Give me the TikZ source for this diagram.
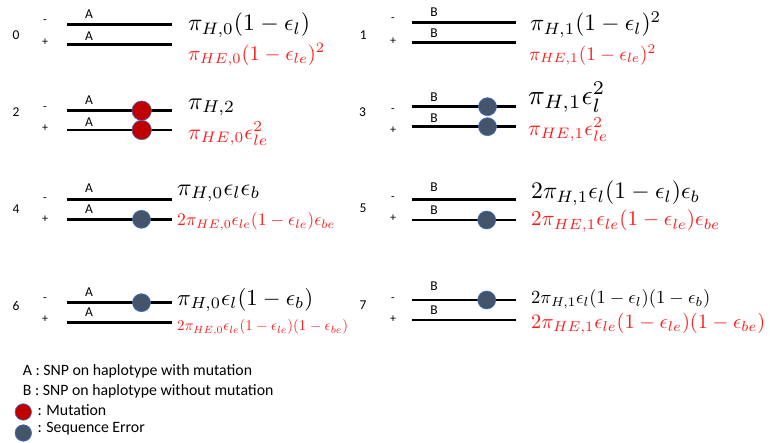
\documentclass[tikz,border=0pt]{standalone}
\usepackage[no-math]{fontspec}
\setmainfont{Carlito}
\usepackage{graphicx}
\definecolor{mutred}{HTML}{C00000}
\definecolor{errblue}{HTML}{44546A}
\definecolor{rimblue}{HTML}{4472C4}
\definecolor{probred}{HTML}{FF1A1A}
% formula scaled to a given width (pt)
\newcommand{\fml}[2]{\resizebox{#1pt}{!}{$#2$}}
\tikzset{
  strand/.style={line width=2.7pt},
  snp/.style={font=\fontsize{13.5}{15}\selectfont, inner sep=0pt},
  sgn/.style={font=\fontsize{12}{14}\selectfont, inner sep=0pt},
  idx/.style={font=\fontsize{13.5}{15}\selectfont, inner sep=0pt},
  prob/.style={anchor=west, inner sep=0pt},
  probe/.style={anchor=west, inner sep=0pt, text=probred},
  mutation/.style={circle, fill=mutred, draw=rimblue, line width=0.6pt, minimum size=19.5pt, inner sep=0pt},
  seqerror/.style={circle, fill=errblue, draw=rimblue, line width=0.6pt, minimum size=18pt, inner sep=0pt},
  legend/.style={anchor=west, font=\fontsize{15.8}{18}\selectfont, inner sep=0pt}
}
\begin{document}
\begin{tikzpicture}[x=1pt,y=-1pt]
  \useasboundingbox (0,0) rectangle (770,443);
  % case 0
  \node[idx] (n0) at (16,35.5) {0};
  \node[sgn] (m0) at (45,21.7) {-};
  \node[sgn] (p0) at (45,42.5) {+};
  \draw[strand] (67,24.3) -- (172,24.3);
  \draw[strand] (67,44.3) -- (172,44.3);
  \node[snp] (a0m) at (89,14) {A};
  \node[snp] (a0p) at (89,36) {A};
  \node[prob] (f0h) at (188,25) {\fml{122}{\pi_{H,0}(1-\epsilon_l)}};
  \node[probe] (f0e) at (188,55) {\fml{137}{\pi_{HE,0}(1-\epsilon_{le})^2}};
  % case 1
  \node[idx] (n1) at (363.3,35) {1};
  \node[sgn] (m1) at (393,20) {-};
  \node[sgn] (p1) at (393,40.8) {+};
  \draw[strand] (412,22.7) -- (516,22.7);
  \draw[strand] (412,42.7) -- (516,42.7);
  \node[snp] (b1m) at (434,11.7) {B};
  \node[snp] (b1p) at (434,33) {B};
  \node[prob] (f1h) at (530,24.5) {\fml{131}{\pi_{H,1}(1-\epsilon_l)^2}};
  \node[probe] (f1e) at (529,55) {\fml{127}{\pi_{HE,1}(1-\epsilon_{le})^2}};
  % case 2
  \node[idx] (n2) at (16,112) {2};
  \node[sgn] (m2) at (45,108.3) {-};
  \node[sgn] (p2) at (45,128) {+};
  \draw[strand] (67,110.7) -- (172,110.7);
  \draw[strand] (67,130) -- (172,130);
  \node[snp] (a2m) at (89,100.5) {A};
  \node[snp] (a2p) at (89,122) {A};
  \node[mutation] (u2m) at (141.7,110.7) {};
  \node[mutation] (u2p) at (141.7,130) {};
  \node[prob] (f2h) at (188,107.5) {\fml{47}{\pi_{H,2}}};
  \node[probe] (f2e) at (188,134) {\fml{80}{\pi_{HE,0}\epsilon_{le}^2}};
  % case 3
  \node[idx] (n3) at (362.5,112) {3};
  \node[sgn] (m3) at (393,111) {-};
  \node[sgn] (p3) at (393,130) {+};
  \draw[strand] (412,106.7) -- (516,106.7);
  \draw[strand] (412,126.7) -- (516,126.7);
  \node[snp] (b3m) at (434,97) {B};
  \node[snp] (b3p) at (434,118.5) {B};
  \node[seqerror] (e3m) at (487.5,106.7) {};
  \node[seqerror] (e3p) at (487.5,126.7) {};
  \node[prob] (f3h) at (528,97) {\fml{77}{\pi_{H,1}\epsilon_l^2}};
  \node[probe] (f3e) at (528,130) {\fml{80}{\pi_{HE,1}\epsilon_{le}^2}};
  % case 4
  \node[idx] (n4) at (16,209.2) {4};
  \node[sgn] (m4) at (45,200) {-};
  \node[sgn] (p4) at (45,219.7) {+};
  \draw[strand] (67,199.3) -- (172,199.3);
  \draw[strand] (67,219.3) -- (172,219.3);
  \node[snp] (a4m) at (89,188) {A};
  \node[snp] (a4p) at (89,209) {A};
  \node[seqerror] (e4p) at (141.5,219.3) {};
  \node[prob] (f4h) at (177,193.3) {\fml{83}{\pi_{H,0}\epsilon_l\epsilon_b}};
  \node[probe] (f4e) at (177,221.7) {\fml{158}{2\pi_{HE,0}\epsilon_{le}(1-\epsilon_{le})\epsilon_{be}}};
  % case 5
  \node[idx] (n5) at (363,208.7) {5};
  \node[sgn] (m5) at (393,198.3) {-};
  \node[sgn] (p5) at (393,218) {+};
  \draw[strand] (412,199.3) -- (516,199.3);
  \draw[strand] (412,220) -- (516,220);
  \node[snp] (b5m) at (434,187.5) {B};
  \node[snp] (b5p) at (434,210) {B};
  \node[seqerror] (e5p) at (486.7,220) {};
  \node[prob] (f5h) at (531,193) {\fml{169}{2\pi_{H,1}\epsilon_l(1-\epsilon_l)\epsilon_b}};
  \node[probe] (f5e) at (531,221) {\fml{189}{2\pi_{HE,1}\epsilon_{le}(1-\epsilon_{le})\epsilon_{be}}};
  % case 6
  \node[idx] (n6) at (16,305.8) {6};
  \node[sgn] (m6) at (45,299.3) {-};
  \node[sgn] (p6) at (45,319.3) {+};
  \draw[strand] (67,302.7) -- (172,302.7);
  \draw[strand] (67,322.7) -- (172,322.7);
  \node[snp] (a6m) at (89,292) {A};
  \node[snp] (a6p) at (89,312) {A};
  \node[seqerror] (e6m) at (141.5,302.7) {};
  \node[prob] (f6h) at (177,300) {\fml{136}{\pi_{H,0}\epsilon_l(1-\epsilon_b)}};
  \node[probe] (f6e) at (177,327.5) {\fml{171}{2\pi_{HE,0}\epsilon_{le}(1-\epsilon_{le})(1-\epsilon_{be})}};
  % case 7
  \node[idx] (n7) at (363,305) {7};
  \node[sgn] (m7) at (393,300) {-};
  \node[sgn] (p7) at (393,319.3) {+};
  \draw[strand] (412,300) -- (516,300);
  \draw[strand] (412,320) -- (516,320);
  \node[snp] (b7m) at (434,286) {B};
  \node[snp] (b7p) at (434,310.5) {B};
  \node[seqerror] (e7m) at (486.7,300) {};
  \node[prob] (f7h) at (531,299) {\fml{179}{2\pi_{H,1}\epsilon_l(1-\epsilon_l)(1-\epsilon_b)}};
  \node[probe] (f7e) at (531,323.3) {\fml{234}{2\pi_{HE,1}\epsilon_{le}(1-\epsilon_{le})(1-\epsilon_{be})}};
  % legend
  \node[legend] (ka) at (22.7,371.7) {A : SNP on haplotype with mutation};
  \node[legend] (kb) at (22.7,391) {B : SNP on haplotype without mutation};
  \node[mutation, minimum size=16.5pt] (km) at (23.3,412) {};
  \node[legend] (kmt) at (37.3,410) {: Mutation};
  \node[seqerror, minimum size=16.5pt] (ke) at (23.3,433) {};
  \node[legend] (ket) at (37.3,429) {: Sequence Error};
\end{tikzpicture}
\end{document}
